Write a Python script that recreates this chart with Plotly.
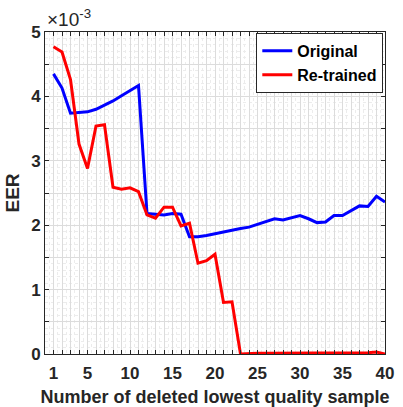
"""EER vs number of deleted lowest quality samples"""
import plotly.graph_objects as go

n_deleted = list(range(1, 41))

# EER values (units of 1e-3)
original = [4.35, 4.13, 3.74, 3.75, 3.76, 3.80, 3.86, 3.93, 4.01, 4.09,
            4.17, 2.18, 2.17, 2.16, 2.18, 2.17, 1.82, 1.82, 1.84, 1.87,
            1.90, 1.93, 1.95, 1.97, 2.01, 2.05, 2.10, 2.08, 2.12, 2.15,
            2.10, 2.04, 2.05, 2.15, 2.15, 2.23, 2.30, 2.29, 2.45, 2.36]
retrained = [4.77, 4.69, 4.26, 3.26, 2.88, 3.54, 3.56, 2.59, 2.56, 2.58,
             2.52, 2.16, 2.11, 2.28, 2.28, 1.99, 2.03, 1.41, 1.45, 1.55,
             0.80, 0.81, 0.00, 0.01, 0.01, 0.01, 0.01, 0.01, 0.01, 0.01,
             0.01, 0.01, 0.01, 0.01, 0.01, 0.01, 0.01, 0.02, 0.03, 0.00]

x_labels = {1: "1", 5: "5", 10: "10", 15: "15", 20: "20",
            25: "25", 30: "30", 35: "35", 40: "40"}
y_major = [0, 1, 2, 3, 4, 5]

scale = 1e-3
font = "Liberation Sans, Arial, sans-serif"
axis_col = "#262626"

fig = go.Figure()
fig.add_trace(go.Scatter(x=n_deleted, y=[v * scale for v in original],
                         mode="lines", name="Original",
                         line=dict(color="#0000ff", width=3)))
fig.add_trace(go.Scatter(x=n_deleted, y=[v * scale for v in retrained],
                         mode="lines", name="Re-trained",
                         line=dict(color="#ff0000", width=3)))

# x ticks at every integer, labels only at a few
x_vals = list(range(0, 41))
x_text = [x_labels.get(v, "") for v in x_vals]
# y ticks every 0.5, labels at integers
y_vals = [i * 0.5 for i in range(11)]
y_text = [str(int(v)) if v in y_major else "" for v in y_vals]

fig.update_xaxes(range=[0, 40], tickvals=x_vals, ticktext=x_text,
                 automargin=False, ticklabelstandoff=4,
                 ticks="inside", ticklen=4, tickcolor=axis_col,
                 showline=True, linecolor=axis_col, linewidth=1, mirror="ticks",
                 showgrid=True, gridcolor="#dcdcdc", gridwidth=1,
                 minor=dict(dtick=0.5, showgrid=True, gridcolor="#ececec",
                            griddash="dot"),
                 zeroline=False,
                 tickfont=dict(family=font, size=17, color=axis_col, weight="bold"),
                 title=dict(text="Number of deleted lowest quality sample",
                            font=dict(family=font, size=18, color=axis_col, weight="bold"),
                            standoff=7))
fig.update_yaxes(range=[0, 5 * scale], tickvals=[v * scale for v in y_vals],
                 ticktext=y_text, automargin=False,
                 ticks="inside", ticklen=4, tickcolor=axis_col,
                 showline=True, linecolor=axis_col, linewidth=1, mirror="ticks",
                 showgrid=True, gridcolor="#dcdcdc", gridwidth=1,
                 minor=dict(dtick=0.1 * scale, showgrid=True, gridcolor="#ececec",
                            griddash="dot"),
                 zeroline=False,
                 tickfont=dict(family=font, size=17, color=axis_col, weight="bold"),
                 title=dict(text="EER",
                            font=dict(family=font, size=19, color=axis_col, weight="bold"),
                            standoff=6))

fig.add_annotation(text="×10<sup>-3</sup>", xref="paper", yref="paper",
                   x=0.0, y=1, xanchor="left", yanchor="bottom", showarrow=False,
                   font=dict(family=font, size=19, color=axis_col))

fig.update_layout(
    width=403, height=407,
    margin=dict(l=45, r=18, t=32, b=53),
    plot_bgcolor="white", paper_bgcolor="white",
    showlegend=True,
    legend=dict(x=0.995, y=0.997, xanchor="right", yanchor="top",
                bgcolor="white", bordercolor="#262626", borderwidth=1,
                font=dict(family=font, size=16, color="black", weight="bold"),
                itemwidth=30, tracegroupgap=0),
)

fig.write_html("out.html", config={"displayModeBar": False},
               post_script="document.body.style.margin='0px';"
                           "document.body.style.overflow='hidden';")
